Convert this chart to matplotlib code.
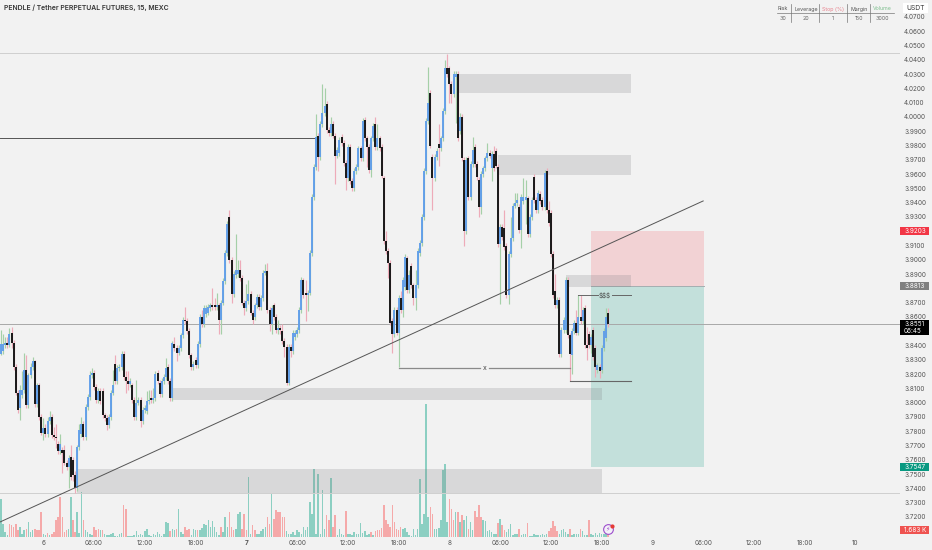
#!/usr/bin/python
import matplotlib
matplotlib.use('Agg')
import matplotlib.pyplot as plt
from matplotlib.lines import Line2D
from matplotlib.patches import Rectangle

# 15 min bars, bar 0 is 19:00 on day 5
opens = [
    3.834,3.836,3.840,3.842,3.840,3.849,3.842,3.825,3.807,3.796,
    3.805,3.809,3.823,3.798,3.819,3.825,3.829,3.799,3.812,3.790,
    3.779,3.782,3.778,3.787,3.790,3.777,3.776,3.771,3.766,3.767,
    3.767,3.758,3.755,3.762,3.760,3.749,3.740,3.769,3.778,3.785,
    3.776,3.797,3.804,3.819,3.821,3.811,3.802,3.808,3.808,3.791,
    3.789,3.784,3.790,3.807,3.827,3.815,3.824,3.825,3.834,3.818,
    3.815,3.813,3.812,3.802,3.790,3.800,3.802,3.787,3.795,3.794,
    3.801,3.803,3.802,3.803,3.821,3.814,3.806,3.815,3.818,3.825,
    3.815,3.803,3.841,3.838,3.835,3.838,3.847,3.858,3.857,3.850,
    3.833,3.825,3.830,3.826,3.841,3.860,3.855,3.862,3.863,3.866,
    3.868,3.868,3.867,3.868,3.858,3.870,3.885,3.905,3.930,3.900,
    3.876,3.889,3.890,3.893,3.887,3.870,3.866,3.871,3.876,3.863,
    3.860,3.868,3.874,3.867,3.873,3.891,3.892,3.865,3.855,3.868,
    3.860,3.851,3.852,3.850,3.843,3.839,3.814,3.839,3.836,3.846,
    3.848,3.851,3.865,3.886,3.877,3.875,3.877,3.905,3.944,3.965,
    3.987,3.972,3.995,4.003,4.009,3.991,3.989,3.995,3.987,3.973,
    3.975,3.986,3.982,3.968,3.957,3.979,3.955,3.950,3.962,3.965,
    3.978,3.971,3.998,3.985,3.979,3.963,3.985,3.995,3.979,3.985,
    3.979,3.957,3.913,3.906,3.898,3.857,3.848,3.865,3.849,3.873,
    3.865,3.881,3.901,3.879,3.896,3.882,3.873,3.882,3.905,3.912,
    3.930,3.962,3.997,4.017,3.972,3.957,3.972,3.981,3.978,3.985,
    4.004,4.034,4.034,4.023,4.016,4.028,4.030,3.990,4.000,3.970,
    3.920,3.971,3.944,3.967,3.979,3.967,3.956,3.937,3.960,3.964,
    3.971,3.975,3.964,3.974,3.976,3.965,3.911,3.923,3.922,3.910,
    3.875,3.904,3.915,3.938,3.940,3.937,3.921,3.941,3.942,3.943,
    3.918,3.930,3.958,3.942,3.935,3.946,3.942,3.937,3.962,3.935,
    3.933,3.904,3.878,3.868,3.872,3.834,3.851,3.851,3.886,3.847,
    3.833,3.850,3.856,3.849,3.860,3.857,3.866,3.840,3.848,3.840,
    3.851,3.838,3.823,3.825,3.823,3.838,3.845,3.8625]
closes = [
    3.841,3.841,3.842,3.840,3.848,3.842,3.825,3.807,3.795,3.809,
    3.809,3.823,3.798,3.819,3.825,3.829,3.799,3.812,3.790,3.779,
    3.782,3.778,3.787,3.790,3.777,3.776,3.775,3.766,3.771,3.765,
    3.758,3.755,3.761,3.748,3.749,3.740,3.769,3.781,3.785,3.776,
    3.797,3.804,3.819,3.821,3.811,3.802,3.808,3.801,3.791,3.789,
    3.784,3.790,3.807,3.812,3.815,3.824,3.825,3.834,3.818,3.815,
    3.813,3.815,3.802,3.790,3.800,3.802,3.787,3.795,3.796,3.801,
    3.802,3.802,3.803,3.820,3.815,3.806,3.815,3.818,3.824,3.815,
    3.803,3.8415,3.838,3.835,3.838,3.847,3.858,3.857,3.850,3.833,
    3.825,3.827,3.826,3.841,3.860,3.855,3.866,3.866,3.867,3.868,
    3.867,3.867,3.868,3.858,3.870,3.885,3.905,3.925,3.900,3.876,
    3.890,3.893,3.893,3.887,3.870,3.866,3.871,3.876,3.863,3.858,
    3.868,3.874,3.867,3.873,3.891,3.892,3.865,3.855,3.866,3.860,
    3.851,3.852,3.851,3.843,3.839,3.814,3.839,3.836,3.8485,3.849,
    3.851,3.865,3.886,3.875,3.875,3.877,3.905,3.944,3.965,3.986,
    3.972,3.995,4.003,4.008,3.991,3.989,3.995,3.987,3.973,3.977,
    3.984,3.982,3.968,3.957,3.979,3.955,3.950,3.962,3.965,3.978,
    3.971,3.997,3.985,3.979,3.963,3.985,3.994,3.979,3.985,3.978,
    3.959,3.913,3.906,3.898,3.856,3.848,3.865,3.849,3.873,3.865,
    3.886,3.902,3.879,3.889,3.882,3.873,3.882,3.906,3.912,3.930,
    3.962,3.997,4.010,3.980,3.957,3.972,3.976,3.978,3.985,4.004,
    4.034,4.030,4.023,4.016,4.030,4.030,3.985,4.000,3.971,3.920,
    3.970,3.944,3.967,3.977,3.967,3.958,3.937,3.960,3.964,3.971,
    3.975,3.973,3.974,3.964,3.966,3.911,3.923,3.916,3.909,3.875,
    3.904,3.915,3.938,3.940,3.942,3.921,3.944,3.944,3.944,3.918,
    3.930,3.942,3.942,3.935,3.947,3.941,3.937,3.961,3.935,3.926,
    3.904,3.875,3.868,3.872,3.834,3.851,3.858,3.886,3.847,3.834,
    3.850,3.856,3.849,3.860,3.857,3.865,3.840,3.838,3.840,3.846,
    3.832,3.825,3.826,3.822,3.838,3.850,3.860,3.8551]
highs = [
    3.851,3.848,3.846,3.846,3.852,3.853,3.844,3.827,3.809,3.812,
    3.822,3.835,3.833,3.821,3.828,3.832,3.830,3.814,3.814,3.792,
    3.789,3.785,3.790,3.794,3.792,3.783,3.785,3.773,3.778,3.769,
    3.770,3.760,3.763,3.770,3.762,3.752,3.770,3.785,3.790,3.787,
    3.799,3.806,3.822,3.824,3.823,3.813,3.810,3.810,3.810,3.793,
    3.791,3.792,3.809,3.823,3.833,3.826,3.827,3.836,3.836,3.822,
    3.822,3.817,3.814,3.804,3.816,3.804,3.804,3.797,3.798,3.808,
    3.809,3.809,3.810,3.822,3.823,3.816,3.817,3.820,3.831,3.827,
    3.817,3.843,3.846,3.840,3.840,3.849,3.860,3.867,3.859,3.852,
    3.835,3.829,3.832,3.843,3.862,3.865,3.868,3.868,3.869,3.870,
    3.880,3.873,3.877,3.870,3.872,3.887,3.907,3.927,3.935,3.902,
    3.892,3.918,3.900,3.900,3.889,3.872,3.883,3.886,3.878,3.865,
    3.870,3.876,3.876,3.875,3.893,3.897,3.898,3.867,3.868,3.870,
    3.862,3.858,3.854,3.855,3.845,3.841,3.841,3.841,3.851,3.851,
    3.853,3.867,3.888,3.887,3.886,3.879,3.907,3.946,3.967,4.002,
    3.989,3.997,4.023,4.020,4.011,3.993,4.000,3.997,3.989,3.979,
    3.986,3.988,3.984,3.970,3.981,3.981,3.957,3.964,3.967,3.980,
    3.980,3.999,4.000,3.987,3.981,3.987,3.996,4.000,3.995,3.987,
    3.981,3.959,3.920,3.908,3.900,3.859,3.867,3.867,3.875,3.878,
    3.888,3.904,3.903,3.893,3.898,3.884,3.893,3.908,3.914,3.932,
    3.964,3.999,4.035,4.019,3.974,3.974,3.978,3.995,3.987,4.006,
    4.040,4.044,4.036,4.025,4.032,4.032,4.032,4.003,4.002,3.972,
    3.972,3.973,3.969,3.986,3.981,3.969,3.958,3.962,3.966,3.973,
    3.982,3.977,3.976,3.980,3.978,3.967,3.925,3.925,3.935,3.912,
    3.906,3.930,3.940,3.947,3.947,3.939,3.946,3.957,3.956,3.945,
    3.932,3.944,3.960,3.944,3.949,3.948,3.944,3.963,3.964,3.941,
    3.935,3.906,3.890,3.874,3.874,3.853,3.860,3.888,3.888,3.849,
    3.852,3.858,3.865,3.875,3.875,3.867,3.868,3.853,3.850,3.848,
    3.853,3.840,3.828,3.827,3.840,3.852,3.866,3.866]
lows = [
    3.833,3.834,3.838,3.838,3.839,3.838,3.823,3.805,3.793,3.788,
    3.803,3.807,3.796,3.796,3.817,3.823,3.797,3.797,3.788,3.777,
    3.774,3.776,3.776,3.785,3.775,3.774,3.768,3.764,3.764,3.751,
    3.756,3.753,3.740,3.746,3.745,3.737,3.738,3.767,3.776,3.774,
    3.774,3.795,3.802,3.817,3.809,3.800,3.800,3.799,3.789,3.787,
    3.781,3.782,3.788,3.805,3.813,3.813,3.822,3.823,3.816,3.807,
    3.809,3.811,3.800,3.788,3.788,3.798,3.783,3.785,3.793,3.792,
    3.799,3.800,3.800,3.801,3.813,3.804,3.804,3.813,3.816,3.813,
    3.801,3.801,3.836,3.829,3.833,3.836,3.845,3.855,3.848,3.831,
    3.823,3.823,3.824,3.824,3.839,3.853,3.853,3.860,3.861,3.864,
    3.865,3.865,3.865,3.848,3.848,3.868,3.883,3.903,3.898,3.870,
    3.874,3.887,3.888,3.885,3.868,3.861,3.864,3.869,3.861,3.855,
    3.858,3.866,3.865,3.865,3.871,3.889,3.863,3.850,3.848,3.858,
    3.849,3.848,3.848,3.841,3.832,3.812,3.812,3.832,3.834,3.844,
    3.846,3.849,3.863,3.873,3.857,3.864,3.875,3.903,3.942,3.963,
    3.962,3.970,3.993,4.001,3.989,3.987,3.987,3.985,3.953,3.971,
    3.973,3.980,3.966,3.949,3.955,3.953,3.948,3.948,3.960,3.963,
    3.969,3.969,3.983,3.965,3.961,3.958,3.983,3.977,3.977,3.976,
    3.957,3.911,3.904,3.887,3.854,3.835,3.846,3.847,3.825,3.863,
    3.860,3.879,3.877,3.877,3.880,3.868,3.865,3.880,3.903,3.910,
    3.928,3.960,3.995,3.978,3.935,3.955,3.970,3.966,3.976,3.983,
    4.002,4.028,4.010,4.010,4.014,3.996,3.983,3.988,3.969,3.910,
    3.918,3.942,3.942,3.965,3.965,3.956,3.930,3.932,3.958,3.962,
    3.969,3.971,3.955,3.962,3.964,3.909,3.869,3.914,3.907,3.873,
    3.869,3.902,3.913,3.936,3.938,3.919,3.908,3.939,3.925,3.916,
    3.916,3.928,3.940,3.933,3.933,3.939,3.935,3.935,3.933,3.924,
    3.902,3.873,3.866,3.866,3.832,3.832,3.849,3.849,3.845,3.815,
    3.820,3.848,3.847,3.847,3.855,3.855,3.838,3.830,3.838,3.835,
    3.830,3.818,3.821,3.817,3.821,3.836,3.843,3.853]
# volume in K, negative means a down (red) bar
volumes = [
    23,8,3,1,-8,-7,-6,-7.6,-4.4,6,
    1.6,4,-5,9,3,4.4,-5,-4,-4.4,-15,
    2,1,-2.4,1,-1.6,-3,-10,-12,-24,-12,
    -3,-4,5,24,-10,-3,15,2.4,27,-10,
    4.4,3,2,1,-6,-4.4,-5,4.4,-4,1.6,
    1,1,2,2.4,.6,.4,1.6,2.4,-19,-17,
    .6,.6,.4,1,3.6,1,2,1,3.6,5,
    1,.6,1.6,1,2.8,2,.6,2,9,8.4,
    -3.6,5,4.4,-5,17,3,2,-6,-4,-5,
    1,5,4,-4.4,4,5.6,7.6,7,10,6,
    9.6,6,3,1,-6,3,12,6,-15,-6,
    -4.4,5,14,15,-5,-13.6,-4,36,2,-7,
    -4,2,1.6,3.6,5,6,-12,-8,25.6,-11,
    -16.4,-15,-15,-12,-12,3.6,2,1.6,3,1,
    4,3,2,6,4,6,21,13.6,41,2,
    38,2,28,5,-13,-10,35.6,-6,-13,1,
    5,2,1,-15.6,2,1.6,1,3,2,2,
    8.4,2.4,3.6,1,2,-3,1,-3.6,-4,-4.4,
    -5.6,-19,-10,-8,-6,-19,-9,-5,-4,-6,
    5,5.6,3,1,.6,5,1,5,35,8,
    14,80,12,-18,-14,5,5,5.6,10,40,
    43.6,9,-23,-17,-10,15,-15,9,-13,10,
    12.4,-5,9,4,-15.6,-12,-19,-12,10,9.6,
    3.6,4,3,2,1.6,-8.4,11,-7,-4,3,
    5,8,1,2,1.6,-5,1,1.6,2,-8.4,
    .4,.4,1.6,1.2,1,1,1.6,1,2,-3.6,
    -5.6,-9.6,-6.4,-3.6,1.6,4.4,5,3,1.6,-5,
    1,1.6,2,1.6,-5,3.6,1.2,1,-10,1.6,
    1,2.4,1.2,2.4,2,1.6,1.6,-1.683]

time_ticks = [20,44,68,92,116,140,164,188,212,236,260,284,308,332,356,380,404]
time_labels = ['6','06:00','12:00','18:00','7','06:00','12:00','18:00','8',
               '06:00','12:00','18:00','9','06:00','12:00','18:00','10']
# 3.71, 3.85, 3.88 and 3.92 sit behind the price tags
price_ticks = [3.72,3.73,3.74,3.75,3.76,3.77,3.78,3.79,3.80,3.81,3.82,3.83,3.84,
               3.86,3.87,3.89,3.90,3.91,3.93,3.94,3.95,3.96,3.97,3.98,3.99,
               4.00,4.01,4.02,4.03,4.04,4.05,4.06,4.07]

# supply/demand boxes: first bar, last bar, upper price, lower price
zone_start = [216, 235, 81, 36, 267]
zone_end = [298, 298, 284, 284, 298]
zone_top = [4.0301, 3.9734, 3.8102, 3.7535, 3.8894]
zone_bottom = [4.0168, 3.9594, 3.8018, 3.7367, 3.881]

entry_price = 3.8813
stop_price = 3.9203
target_price = 3.7547
last_price = 3.8551

table_heads = ['Risk', 'Leverage', 'Stop (%)', 'Margin', 'Volume']
table_values = ['30', '20', '1', '150', '3000']
table_colors = ['#555555', '#555555', '#e8808c', '#555555', '#7fbf8f']
table_x = [783, 806, 833, 859, 882]
table_rules = [791, 819, 847, 870]

FONT = 'Inter'
BG = '#f2f2f2'
W, H = 932.0, 550.0


def price_tag(ax, price, text, bg, extra=None):
    """Coloured box on the price scale, extra is an optional second line."""
    half = 0.0028
    bottom = price - half - (0.0052 if extra else 0)
    trans = ax.get_yaxis_transform()
    ax.add_patch(Rectangle((1.0, bottom), 29/900.0, price + half - bottom, transform=trans,
                           fc=bg, ec='none', clip_on=False, zorder=20))
    ax.text(1.0045, price, text, transform=trans, color='white', fontsize=4.6, family=FONT,
            va='center', ha='left', clip_on=False, zorder=21)
    if extra:
        ax.text(1.0045, price - 0.005, extra, transform=trans, color='white', fontsize=4.6,
                family=FONT, va='center', ha='left', clip_on=False, zorder=21)


def main():
    fig = plt.figure(figsize=(W/100, H/100), dpi=100, facecolor=BG)
    box = [0, 13/H, 900/W, 537/H]
    vol_ax = fig.add_axes(box, facecolor=BG)
    ax = fig.add_axes(box, sharex=vol_ax)
    ax.patch.set_visible(False)
    ax.set_xlim(-0.47, 425.06)
    ax.set_ylim(3.7059, 4.0819)
    vol_ax.set_ylim(0, 322.2)
    vol_ax.axis('off')

    bars = range(len(closes))

    # volume pane
    vol_ax.bar(bars, [abs(v) for v in volumes], width=0.72,
               color=['#8ccfc2' if v > 0 else '#f5a9a9' for v in volumes])

    # long position + zones
    ax.add_patch(Rectangle((279, entry_price), 53.5, stop_price - entry_price,
                           fc='#f23645', alpha=0.17, ec='none', zorder=1))
    ax.add_patch(Rectangle((279, target_price), 53.5, entry_price - target_price,
                           fc='#089981', alpha=0.2, ec='none', zorder=1))
    ax.plot([279, 332.5], [entry_price, entry_price], color='#a5aeb0', lw=0.7, zorder=1)
    for s, e, t, b in zip(zone_start, zone_end, zone_top, zone_bottom):
        ax.add_patch(Rectangle((s, b), e - s, t - b, fc='#7c7f82', alpha=0.22,
                               ec='none', zorder=2))

    # level lines
    ax.axhline(4.0448, color='#cfcfcf', lw=0.7, zorder=1)
    ax.axhline(3.7367, color='#cfcfcf', lw=0.7, zorder=1)
    ax.axhline(last_price, color='#a8a8a8', lw=0.7, zorder=1)
    ax.plot([-0.47, 148.5], [3.985, 3.985], color='#555555', lw=0.7, zorder=3)

    # candles
    up = [c >= o for o, c in zip(opens, closes)]
    wick_colors = ['#a5d0a8' if u else '#eeabb9' for u in up]
    body_colors = ['#5f9dea' if u else '#111111' for u in up]
    ax.vlines(bars, lows, highs, colors=wick_colors, lw=0.85, capstyle='butt', zorder=4)
    ax.vlines(bars, opens, closes, colors=body_colors, lw=1.35, capstyle='butt', zorder=5)

    # drawings
    ax.plot([-0.47, 332], [3.7164, 3.9412], color='#555555', lw=0.7, zorder=6)
    ax.plot([188, 226.5], [3.8245, 3.8245], color='#8a8a8a', lw=0.9, zorder=6)
    ax.plot([230.5, 269], [3.8245, 3.8245], color='#8a8a8a', lw=0.9, zorder=6)
    ax.text(228.5, 3.8245, 'x', color='#444444', fontsize=5, family=FONT,
            ha='center', va='center', zorder=7)
    ax.plot([273, 282.3], [3.8754, 3.8754], color='#666666', lw=0.7, zorder=6)
    ax.plot([289, 298], [3.8754, 3.8754], color='#666666', lw=0.7, zorder=6)
    ax.text(285.6, 3.8754, r'\$\$\$', color='#444444', fontsize=4.5, family=FONT,
            ha='center', va='center', zorder=7)
    ax.plot([269, 298], [3.8151, 3.8151], color='#666666', lw=0.8, zorder=6)

    # axes
    for spine in ax.spines.values():
        spine.set_visible(False)
    ax.yaxis.tick_right()
    ax.set_yticks(price_ticks)
    ax.set_yticklabels(['%.4f' % p for p in price_ticks], family=FONT, fontsize=4.6,
                       color='#555555')
    ax.set_xticks(time_ticks)
    ax.set_xticklabels(time_labels, family=FONT, fontsize=4.6, color='#555555')
    ax.get_xticklabels()[4].set_fontweight('bold')
    ax.tick_params(axis='both', length=0)
    ax.tick_params(axis='y', pad=3)
    ax.tick_params(axis='x', pad=2.2)

    # price scale tags
    price_tag(ax, stop_price, '3.9203', '#f23645')
    price_tag(ax, entry_price, '3.8813', '#808080')
    price_tag(ax, last_price, '3.8551', '#000000', extra='06:45')
    price_tag(ax, target_price, '3.7547', '#089981')
    price_tag(ax, 3.7108, '1.683 K', '#ef5350')

    # scalp badge over the last volume bars
    ax.plot([287], [3.7115], marker='o', ms=7, mfc='#f4f0f8', mec='#9c4dcc', mew=0.8, zorder=8)
    ax.text(287, 3.7115, '\u26a1', color='#9c4dcc', fontsize=4.5, family='DejaVu Sans',
            ha='center', va='center', zorder=9)
    ax.plot([288.7], [3.7137], marker='o', ms=2, color='#e53935', zorder=10)

    # header + currency
    fig.text(4/W, 1 - 8/H, 'PENDLE / Tether PERPETUAL FUTURES, 15, MEXC', family=FONT,
             fontsize=4.9, fontweight='semibold', color='#333333', va='center')
    fig.patches.append(Rectangle((903/W, 1 - 13/H), 25/W, 10/H, transform=fig.transFigure,
                                 fc='white', ec='none', zorder=5))
    fig.text(915.5/W, 1 - 8/H, 'USDT', family=FONT, fontsize=4.8, color='#333333',
             ha='center', va='center', zorder=6)

    # position size table
    for x, head, val, col in zip(table_x, table_heads, table_values, table_colors):
        fig.text(x/W, 1 - 9/H, head, family=FONT, fontsize=3.8, color=col, ha='center', va='center')
        fig.text(x/W, 1 - 18/H, val, family=FONT, fontsize=3.8, color='#666666', ha='center', va='center')
    fig.add_artist(Line2D([777/W, 894/W], [1 - 13/H, 1 - 13/H], color='#777777', lw=0.5))
    for x in table_rules:
        fig.add_artist(Line2D([x/W, x/W], [1 - 4/H, 1 - 22/H], color='#777777', lw=0.5))

    fig.savefig('out.png', dpi=100, facecolor=BG)


if __name__ == '__main__':
    main()
